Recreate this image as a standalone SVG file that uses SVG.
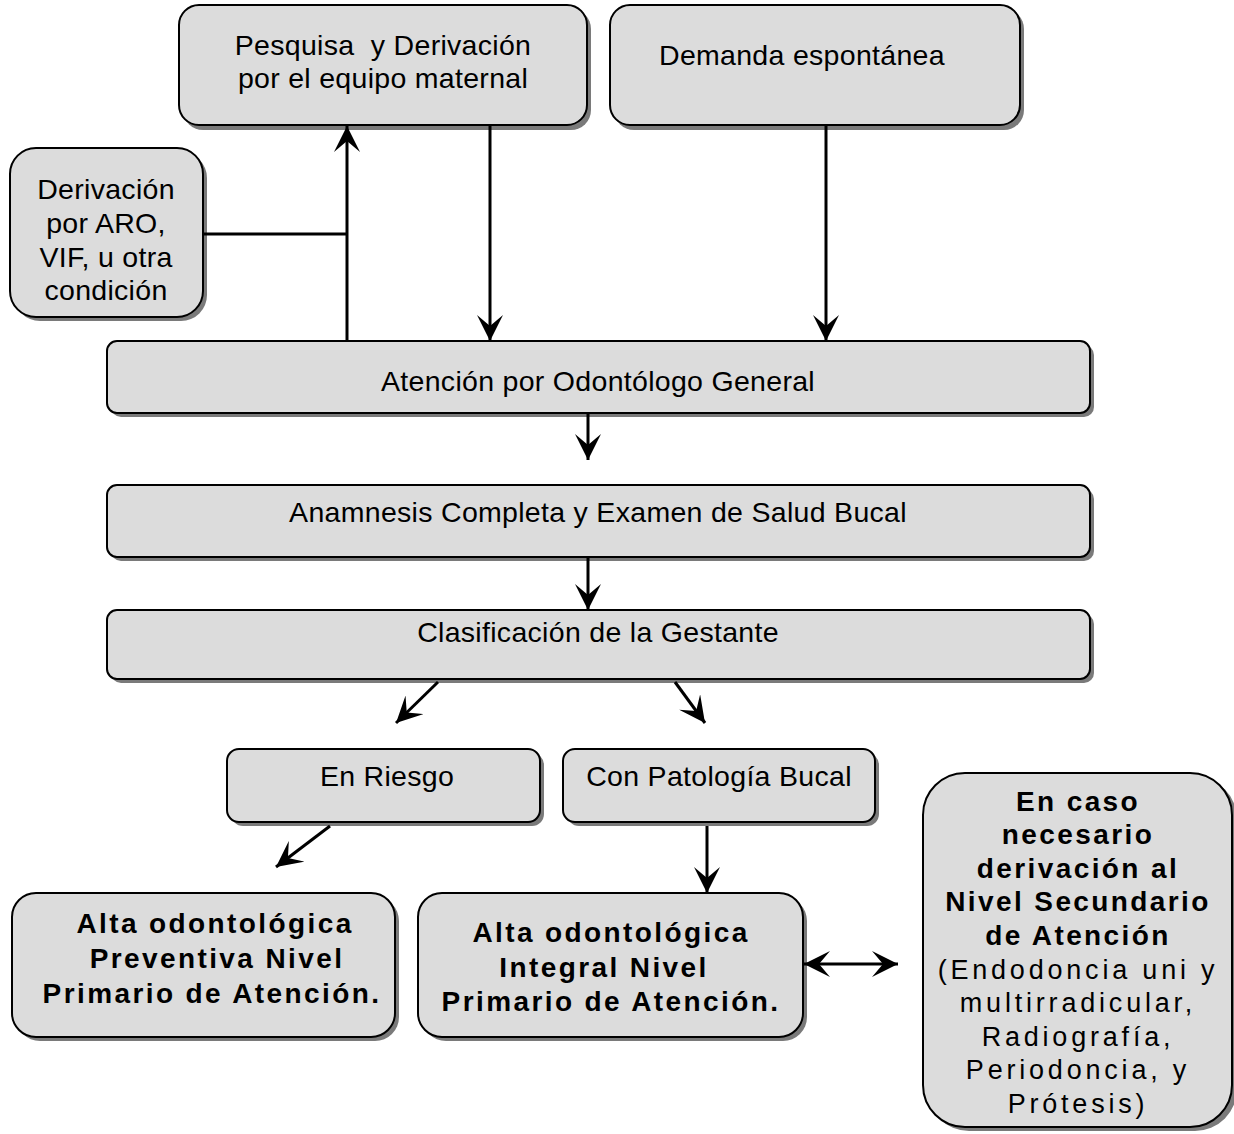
<svg xmlns="http://www.w3.org/2000/svg" width="1234" height="1134" viewBox="0 0 1234 1134">
<style>
.box{fill:#dcdcdc;stroke:#000;stroke-width:2}
.sh{fill:#7a7a7a}
.t{font-family:"Liberation Sans",Arial,sans-serif;font-size:28.5px;letter-spacing:0.3px;fill:#000;text-anchor:middle}
.b{font-family:"Liberation Sans",Arial,sans-serif;font-size:28px;font-weight:bold;letter-spacing:2.4px;fill:#000;text-anchor:middle}
.r{font-family:"Liberation Sans",Arial,sans-serif;font-size:27px;letter-spacing:3.8px;fill:#000;text-anchor:middle}
.c{fill:none;stroke:#000;stroke-width:3}
</style>
<defs>
<marker id="ah" viewBox="0 0 26 26" refX="26" refY="13" markerWidth="26" markerHeight="26" markerUnits="userSpaceOnUse" orient="auto-start-reverse">
<path d="M0,0 L26,13 L0,26 L11,13 Z" fill="#000"/>
</marker>
</defs>
<rect width="1234" height="1134" fill="#fff"/>

<g id="n-pesquisa">
<rect class="sh" x="183" y="9" width="408" height="121" rx="20"/>
<rect class="box" x="179" y="5" width="408" height="120" rx="20"/>
<text class="t" x="383" y="55">Pesquisa&#160; y Derivación</text>
<text class="t" x="383" y="88">por el equipo maternal</text>
</g>
<g id="n-demanda">
<rect class="sh" x="614" y="9" width="410" height="121" rx="20"/>
<rect class="box" x="610" y="5" width="410" height="120" rx="20"/>
<text class="t" x="659" y="65" style="text-anchor:start">Demanda espontánea</text>
</g>
<g id="n-derivacion">
<rect class="sh" x="14" y="152" width="193" height="169" rx="26"/>
<rect class="box" x="10" y="148" width="193" height="169" rx="26"/>
<text class="t" x="106" y="199">Derivación</text>
<text class="t" x="106" y="233">por ARO,</text>
<text class="t" x="106" y="267">VIF, u otra</text>
<text class="t" x="106" y="300">condición</text>
</g>
<g id="n-atencion">
<rect class="sh" x="111" y="345" width="983" height="72" rx="10"/>
<rect class="box" x="107" y="341" width="983" height="72" rx="10"/>
<text class="t" x="598" y="391">Atención por Odontólogo General</text>
</g>
<g id="n-anamnesis">
<rect class="sh" x="111" y="489" width="983" height="72" rx="10"/>
<rect class="box" x="107" y="485" width="983" height="72" rx="10"/>
<text class="t" x="598" y="522">Anamnesis Completa y Examen de Salud Bucal</text>
</g>
<g id="n-clasificacion">
<rect class="sh" x="111" y="614" width="983" height="69" rx="10"/>
<rect class="box" x="107" y="610" width="983" height="69" rx="10"/>
<text class="t" x="598" y="642">Clasificación de la Gestante</text>
</g>
<g id="n-riesgo">
<rect class="sh" x="231" y="753" width="313" height="73" rx="12"/>
<rect class="box" x="227" y="749" width="313" height="73" rx="12"/>
<text class="t" x="387" y="786">En Riesgo</text>
</g>
<g id="n-patologia">
<rect class="sh" x="567" y="753" width="312" height="73" rx="12"/>
<rect class="box" x="563" y="749" width="312" height="73" rx="12"/>
<text class="t" x="719" y="786">Con Patología Bucal</text>
</g>
<g id="n-alta-preventiva">
<rect class="sh" x="16" y="897" width="383" height="144" rx="24"/>
<rect class="box" x="12" y="893" width="383" height="144" rx="24"/>
<text class="b" x="215" y="933">Alta odontológica</text>
<text class="b" x="217" y="968">Preventiva Nivel</text>
<text class="b" x="212" y="1003">Primario de Atención.</text>
</g>
<g id="n-alta-integral">
<rect class="sh" x="422" y="897" width="385" height="144" rx="24"/>
<rect class="box" x="418" y="893" width="385" height="144" rx="24"/>
<text class="b" x="611" y="942">Alta odontológica</text>
<text class="b" x="604" y="977">Integral Nivel</text>
<text class="b" x="611" y="1011">Primario de Atención.</text>
</g>
<g id="n-secundario">
<rect class="sh" x="927" y="777" width="310" height="354" rx="42"/>
<rect class="box" x="923" y="773" width="309" height="354" rx="42"/>
<text class="b" x="1078" y="811">En caso</text>
<text class="b" x="1078" y="844">necesario</text>
<text class="b" x="1078" y="878">derivación al</text>
<text class="b" x="1078" y="911">Nivel Secundario</text>
<text class="b" x="1078" y="945">de Atención</text>
<text class="r" x="1078" y="979">(Endodoncia uni y</text>
<text class="r" x="1078" y="1012">multirradicular,</text>
<text class="r" x="1078" y="1046">Radiografía,</text>
<text class="r" x="1078" y="1079">Periodoncia, y</text>
<text class="r" x="1078" y="1113">Prótesis)</text>
</g>

<g id="connectors">
<path class="c" d="M347,341 V126" marker-end="url(#ah)"/>
<path class="c" d="M203,234 H347"/>
<path class="c" d="M490,125 V341" marker-end="url(#ah)"/>
<path class="c" d="M826,125 V341" marker-end="url(#ah)"/>
<path class="c" d="M588,413 V460" marker-end="url(#ah)"/>
<path class="c" d="M588,557 V610" marker-end="url(#ah)"/>
<path class="c" d="M438,682 L396,723" marker-end="url(#ah)"/>
<path class="c" d="M675,682 L705,723" marker-end="url(#ah)"/>
<path class="c" d="M330,826 L276,867" marker-end="url(#ah)"/>
<path class="c" d="M707,826 V893" marker-end="url(#ah)"/>
<path class="c" d="M804,964 H898" marker-start="url(#ah)" marker-end="url(#ah)"/>
</g>
</svg>
